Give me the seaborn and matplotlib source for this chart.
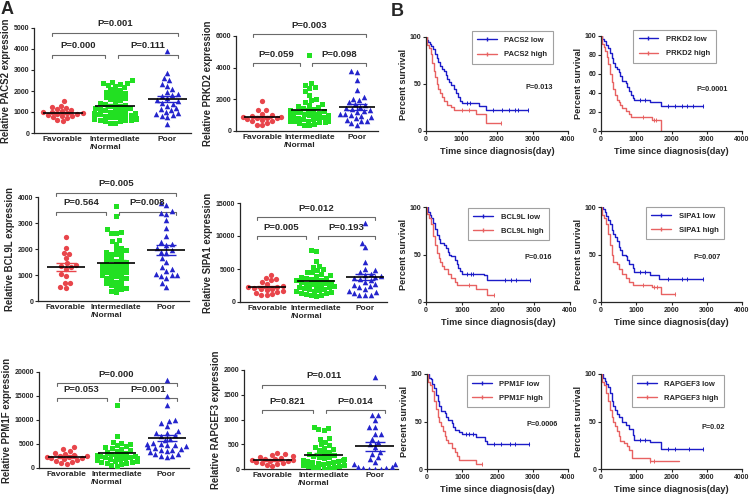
import warnings
import numpy as np
import matplotlib
matplotlib.use('Agg')
import matplotlib.pyplot as plt
from matplotlib.lines import Line2D
import seaborn as sns
warnings.filterwarnings('ignore')

sns.set_style('ticks')
plt.rcParams['font.family'] = ['Liberation Sans', 'DejaVu Sans']
plt.rcParams['font.weight'] = 'bold'
plt.rcParams['axes.labelweight'] = 'bold'

#%% A: expression by risk group
groups = ['Favorable', 'Intermediate\n/Normal', 'Poor']

pacs2_fav = [1500, 1300, 1250, 1200, 1150, 1100, 1050, 1000, 1000, 950, 950, 900, 900, 850, 800, 800, 750, 700, 600, 550]
pacs2_int = [2500, 2450, 2400, 2400, 2350, 2300, 2250, 2200, 2100, 2050, 2000, 1950, 1900, 1850, 1800, 1750, 1700,
             1650, 1600, 1550, 1500, 1450, 1400, 1350, 1300, 1300, 1250, 1200, 1200, 1150, 1100, 1100, 1050, 1000,
             1000, 950, 950, 900, 900, 850, 850, 800, 800, 800, 750, 750, 700, 700, 700, 650, 650, 600, 600, 600,
             550, 550, 500, 500]
pacs2_poor = [3900, 2850, 2600, 2500, 2350, 2250, 2100, 1950, 1850, 1800, 1750, 1650, 1550, 1500, 1450, 1400, 1300,
              1200, 1150, 1100, 1000, 950, 900, 850, 800, 750, 450]

prkd2_fav = [1900, 1350, 1300, 1100, 1000, 950, 900, 900, 850, 800, 800, 750, 700, 650, 600, 500, 400, 350]
prkd2_int = [4800, 3000, 2900, 2750, 2700, 2500, 2300, 2050, 1950, 1800, 1700, 1650, 1600, 1500, 1450, 1400, 1350,
             1300, 1250, 1200, 1200, 1150, 1100, 1100, 1050, 1000, 1000, 950, 950, 900, 900, 850, 850, 800, 800,
             750, 750, 700, 700, 650, 650, 600, 600, 550, 550, 500, 450, 400, 350]
prkd2_poor = [3800, 3700, 3200, 2600, 2150, 2050, 1950, 1800, 1700, 1650, 1500, 1450, 1400, 1300, 1250, 1200, 1100,
              1050, 1000, 950, 900, 800, 700, 650, 600, 500, 350]

bcl9l_fav = [2450, 2050, 1850, 1800, 1650, 1450, 1400, 1350, 1300, 1250, 1050, 950, 700, 700, 550, 500]
bcl9l_int = [3650, 3250, 2750, 2650, 2600, 2600, 2350, 2300, 2200, 2050, 2000, 1950, 1900, 1850, 1800, 1800, 1700,
             1650, 1600, 1550, 1500, 1500, 1450, 1400, 1400, 1350, 1300, 1300, 1250, 1200, 1200, 1150, 1100, 1100,
             1050, 1000, 1000, 950, 900, 900, 850, 800, 750, 700, 650, 600, 550, 500, 450, 400, 350]
bcl9l_poor = [3750, 3700, 3450, 3400, 3350, 3100, 2800, 2500, 2250, 2200, 2150, 2050, 1950, 1900, 1850, 1650, 1500,
              1300, 1250, 1150, 1050, 1000, 1000, 950, 900, 700, 550]

sipa1_fav = [4100, 3700, 3500, 3300, 3000, 2700, 2500, 2300, 2200, 2100, 2000, 1900, 1800, 1600, 1500, 1400, 1200,
             1100, 1000]
sipa1_int = [7900, 7800, 6200, 5500, 5300, 5000, 4800, 4600, 4500, 4300, 4100, 4000, 3800, 3700, 3600, 3500, 3400,
             3300, 3200, 3100, 3000, 2900, 2800, 2700, 2600, 2500, 2400, 2300, 2200, 2100, 2000, 1900, 1800, 1700,
             1600, 1500, 1400, 1300, 1200, 1100, 1000, 900]
sipa1_poor = [12000, 9000, 8300, 6000, 5000, 4800, 4500, 4300, 4100, 3900, 3800, 3600, 3500, 3300, 3100, 2800, 2600,
              2400, 2200, 2000, 1700, 1500, 1300, 1100, 1000, 1000]

ppm1f_fav = [4300, 4000, 3500, 3200, 3000, 2800, 2600, 2500, 2300, 2200, 2100, 2000, 1900, 1700, 1500, 1300, 1000, 900]
ppm1f_int = [13200, 6700, 5500, 5200, 5000, 4800, 4600, 4400, 4200, 4000, 3800, 3600, 3400, 3200, 3000, 2900, 2800,
             2700, 2600, 2500, 2400, 2300, 2200, 2100, 2000, 1900, 1800, 1700, 1600, 1500, 1400, 1300, 1200, 1100,
             1000, 800, 600, 400]
ppm1f_poor = [18400, 15000, 13100, 10100, 9800, 9300, 8800, 7800, 7300, 7200, 6900, 6700, 6100, 5800, 5200, 4900,
              4700, 4400, 4200, 3800, 3500, 3000, 2600, 2300, 5000, 4800, 4500, 4000, 3700, 3300, 2900, 2500]

rapgef3_fav = [320, 300, 280, 260, 250, 230, 210, 200, 190, 180, 170, 160, 150, 130, 120, 100, 80, 60]
rapgef3_int = [850, 820, 800, 780, 620, 600, 550, 500, 480, 450, 430, 400, 380, 350, 330, 300, 280, 260, 250, 240,
               220, 200, 190, 180, 170, 160, 150, 140, 130, 120, 110, 100, 90, 80, 70, 60, 50, 40, 30, 20, 10]
rapgef3_poor = [1850, 1100, 1100, 1000, 850, 850, 700, 700, 600, 550, 500, 450, 350, 300, 250, 200, 150, 100, 100,
                50, 50, 30, 20, 10, 10, 5]

# p values: (fav vs poor, fav vs int, int vs poor)
pacs2_p = ['P=0.001', 'P=0.000', 'P=0.111']
prkd2_p = ['P=0.003', 'P=0.059', 'P=0.098']
bcl9l_p = ['P=0.005', 'P=0.564', 'P=0.008']
sipa1_p = ['P=0.012', 'P=0.005', 'P=0.193']
ppm1f_p = ['P=0.000', 'P=0.053', 'P=0.001']
rapgef3_p = ['P=0.011', 'P=0.821', 'P=0.014']

#%% B: survival (time in days, percent survival)
pacs2_low_t = [0, 20, 50, 100, 150, 200, 250, 300, 350, 400, 450, 500, 550, 600, 650, 700, 800, 850, 900, 950, 1000, 1500, 1700, 2880]
pacs2_low_s = [100, 97, 95, 93, 90, 87, 82, 78, 73, 69, 66, 64, 60, 55, 52, 49, 45, 40, 36, 32, 30, 27, 22, 22]
pacs2_high_t = [0, 30, 80, 130, 180, 220, 260, 300, 350, 400, 450, 500, 600, 700, 800, 1400, 1700, 2100]
pacs2_high_s = [100, 92, 88, 82, 72, 64, 57, 50, 45, 40, 36, 32, 28, 25, 22, 18, 9, 9]
pacs2_low_c = [1150, 1250, 1900, 2150, 2350, 2500, 2600, 2880]
pacs2_high_c = [1000, 1200, 2100]

prkd2_low_t = [0, 30, 80, 150, 200, 250, 300, 350, 400, 450, 500, 550, 600, 700, 750, 800, 850, 900, 950, 1400, 1700, 2880]
prkd2_low_s = [100, 97, 95, 91, 87, 82, 77, 72, 67, 65, 62, 58, 53, 50, 46, 42, 38, 35, 33, 30, 26, 26]
prkd2_high_t = [0, 30, 80, 120, 160, 200, 250, 300, 350, 400, 450, 500, 550, 600, 700, 800, 850, 1450, 1700]
prkd2_high_s = [100, 92, 88, 84, 78, 70, 60, 52, 44, 38, 33, 30, 27, 24, 21, 18, 15, 12, 0]
prkd2_low_c = [1100, 1250, 1900, 2100, 2300, 2450, 2600, 2880]
prkd2_high_c = [1200, 1500, 1550]

bcl9l_low_t = [0, 50, 100, 150, 200, 250, 300, 350, 400, 500, 550, 600, 650, 700, 800, 850, 900, 950, 1000, 1600, 1700, 2880]
bcl9l_low_s = [100, 95, 92, 88, 83, 77, 71, 66, 62, 60, 57, 53, 50, 48, 44, 40, 36, 33, 30, 28, 23, 23]
bcl9l_high_t = [0, 30, 80, 150, 200, 250, 300, 350, 400, 450, 500, 600, 700, 800, 850, 1400, 1700, 1900]
bcl9l_high_s = [100, 93, 88, 82, 70, 60, 52, 46, 42, 38, 35, 30, 25, 21, 18, 14, 7, 7]
bcl9l_low_c = [1150, 1250, 1300, 2200, 2350, 2500, 2880]
bcl9l_high_c = [1200, 1900]

sipa1_low_t = [0, 50, 100, 150, 200, 250, 300, 350, 400, 450, 500, 550, 600, 700, 750, 800, 900, 950, 1400, 1650, 2880]
sipa1_low_s = [100, 98, 95, 90, 86, 82, 76, 72, 68, 64, 58, 55, 50, 48, 44, 40, 36, 32, 28, 24, 24]
sipa1_high_t = [0, 30, 80, 150, 200, 250, 300, 350, 450, 500, 600, 700, 800, 900, 1450, 1700, 2100]
sipa1_high_s = [100, 92, 88, 82, 72, 60, 50, 42, 40, 35, 30, 25, 21, 18, 16, 8, 8]
sipa1_low_c = [1100, 1250, 1900, 2300, 2450, 2880]
sipa1_high_c = [1200, 1500, 1600, 2100]

ppm1f_low_t = [0, 50, 100, 150, 200, 250, 300, 350, 400, 500, 550, 600, 700, 750, 800, 900, 1000, 1400, 1650, 1700, 2880]
ppm1f_low_s = [100, 96, 95, 90, 85, 78, 72, 66, 61, 59, 55, 52, 48, 44, 41, 39, 37, 34, 30, 26, 26]
ppm1f_high_t = [0, 30, 80, 150, 200, 250, 300, 350, 400, 450, 500, 550, 600, 700, 800, 850, 900, 1400, 1550]
ppm1f_high_s = [100, 92, 88, 82, 72, 63, 55, 50, 45, 40, 35, 31, 27, 22, 18, 14, 9, 5, 5]
ppm1f_low_c = [1100, 1200, 1300, 1900, 2100, 2350, 2500, 2880]
ppm1f_high_c = [1550]

rapgef3_low_t = [0, 50, 100, 150, 200, 250, 300, 350, 400, 450, 500, 600, 700, 800, 900, 950, 1400, 1700, 2880]
rapgef3_low_s = [100, 96, 93, 90, 86, 80, 72, 66, 62, 58, 55, 50, 46, 42, 36, 31, 28, 21, 21]
rapgef3_high_t = [0, 30, 80, 150, 200, 250, 300, 350, 400, 450, 500, 550, 650, 750, 800, 880, 1400, 2200]
rapgef3_high_s = [100, 92, 88, 80, 72, 62, 55, 50, 45, 40, 35, 30, 27, 24, 20, 12, 8, 8]
rapgef3_low_c = [1100, 1250, 1900, 2100, 2500, 2880]
rapgef3_high_c = [1400, 1500]

surv_p = {'PACS2': 'P=0.013', 'PRKD2': 'P=0.0001', 'BCL9L': 'P=0.016',
          'SIPA1': 'P=0.007', 'PPM1F': 'P=0.0006', 'RAPGEF3': 'P=0.02'}

#%% STYLE
W, H = 753, 495
grp_colors = ['#e8454b', '#22e022', '#2424cc']
grp_markers = ['o', 's', '^']
grp_sizes = [3.8, 3.6, 4.0]
low_col = '#1c1cc8'
high_col = '#e86262'
bracket_col = '#6a6a6a'


def px_axes(fig, left, top, right, bottom):
    return fig.add_axes([left / W, 1 - bottom / H, (right - left) / W, (bottom - top) / H])


def style_axes(ax):
    sns.despine(ax=ax)
    for s in ['left', 'bottom']:
        ax.spines[s].set_linewidth(0.9)
    ax.tick_params(length=2.5, width=0.8, pad=1, labelsize=5)


def bracket(ax, x0, x1, y, h, text, ty):
    ax.plot([x0, x0, x1, x1], [y - h, y, y, y - h], color=bracket_col, lw=0.8, clip_on=False)
    ax.text((x0 + x1) / 2, ty, text, ha='center', va='center', fontsize=6.8, fontweight='bold', clip_on=False)


def expr_panel(ax, gene, data, ymax, ystep, pvals, y_top, y_low):
    for i, vals in enumerate(data):
        sns.swarmplot(x=[groups[i]] * len(vals), y=vals, order=groups, color=grp_colors[i],
                      marker=grp_markers[i], size=grp_sizes[i], linewidth=0, ax=ax)
        m = np.mean(vals)
        sem = np.std(vals, ddof=1) / np.sqrt(len(vals))
        ax.errorbar(i, m, yerr=sem, color=grp_colors[i], capsize=7, lw=1.0, capthick=1.0, zorder=4)
        ax.hlines(m, i - 0.38, i + 0.38, color='k', lw=1.2, zorder=5)
    ax.set_xlim(-0.55, 2.45)
    ax.set_ylim(0, ymax)
    ax.set_yticks(np.arange(0, ymax + 1, ystep))
    style_axes(ax)
    ax.tick_params(axis='x', labelsize=6, length=0, pad=2)
    for lab in ax.get_xticklabels():
        lab.set_multialignment('left')
    ax.set_xlabel('')
    ax.set_ylabel('Relative {} expression'.format(gene), fontsize=6.9, labelpad=2)
    h = 0.03 * ymax
    tgap = 0.09 * ymax
    bracket(ax, -0.2, 2.2, y_top, h, pvals[0], y_top + tgap)
    bracket(ax, -0.2, 0.8, y_low, h, pvals[1], y_low + tgap)
    bracket(ax, 1.05, 2.2, y_low, h, pvals[2], y_low + tgap)


def value_at(t, s, c):
    idx = np.searchsorted(t, c, side='right') - 1
    return np.asarray(s)[idx]


def surv_panel(ax, gene, low, high, yticks, leg_xy, p_xy):
    for (t, s, c), col in [(low, low_col), (high, high_col)]:
        sns.lineplot(x=t, y=s, drawstyle='steps-post', color=col, lw=1.0, estimator=None, ax=ax)
        ax.plot(c, value_at(t, s, c), ls='none', marker='|', ms=2.5, mew=0.7, color=col)
    ax.set_xlim(0, 4000)
    ax.set_ylim(0, 100)
    ax.set_xticks([0, 1000, 2000, 3000, 4000])
    ax.set_yticks(yticks)
    style_axes(ax)
    ax.set_xlabel('Time since diagnosis(day)', fontsize=6.6, labelpad=3)
    ax.set_ylabel('Percent survival', fontsize=6.6, labelpad=1)
    handles = [Line2D([], [], color=low_col, lw=1.0, marker='|', ms=2.5, label='{} low'.format(gene)),
               Line2D([], [], color=high_col, lw=1.0, marker='|', ms=2.5, label='{} high'.format(gene))]
    leg = ax.legend(handles=handles, loc='upper right', bbox_to_anchor=leg_xy, frameon=True, fancybox=False,
                    edgecolor='#8a8a8a', fontsize=5.5, handlelength=2.6, borderpad=0.7, labelspacing=0.9,
                    handletextpad=1.0)
    leg.get_frame().set_linewidth(0.8)
    ax.text(p_xy[0], p_xy[1], surv_p[gene], ha='center', va='center', fontsize=5.3, fontweight='bold')


fig = plt.figure(figsize=(W / 100, H / 100), dpi=100)

# panel A
ax = px_axes(fig, 34, 28, 191, 133)
expr_panel(ax, 'PACS2', [pacs2_fav, pacs2_int, pacs2_poor], 5000, 1000, pacs2_p, 4760, 3700)
ax = px_axes(fig, 236, 36, 378, 131)
expr_panel(ax, 'PRKD2', [prkd2_fav, prkd2_int, prkd2_poor], 6000, 2000, prkd2_p, 6130, 4300)
ax = px_axes(fig, 38, 197, 189, 301)
expr_panel(ax, 'BCL9L', [bcl9l_fav, bcl9l_int, bcl9l_poor], 4000, 1000, bcl9l_p, 4150, 3420)
ax = px_axes(fig, 240, 203, 387, 302)
expr_panel(ax, 'SIPA1', [sipa1_fav, sipa1_int, sipa1_poor], 15000, 5000, sipa1_p, 12880, 10000)
ax = px_axes(fig, 39, 372, 189, 468)
expr_panel(ax, 'PPM1F', [ppm1f_fav, ppm1f_int, ppm1f_poor], 20000, 5000, ppm1f_p, 17700, 14600)
ax = px_axes(fig, 244, 370, 398, 469)
expr_panel(ax, 'RAPGEF3', [rapgef3_fav, rapgef3_int, rapgef3_poor], 2000, 500, rapgef3_p, 1700, 1190)

# panel B
ax = px_axes(fig, 426, 37, 568, 131)
surv_panel(ax, 'PACS2', (pacs2_low_t, pacs2_low_s, pacs2_low_c), (pacs2_high_t, pacs2_high_s, pacs2_high_c),
           [0, 50, 100], (0.92, 1.10), (3180, 46))
ax = px_axes(fig, 601, 36, 742, 131)
surv_panel(ax, 'PRKD2', (prkd2_low_t, prkd2_low_s, prkd2_low_c), (prkd2_high_t, prkd2_high_s, prkd2_high_c),
           [0, 20, 40, 60, 80, 100], (0.84, 1.10), (3150, 44))
ax = px_axes(fig, 426, 207, 570, 302)
surv_panel(ax, 'BCL9L', (bcl9l_low_t, bcl9l_low_s, bcl9l_low_c), (bcl9l_high_t, bcl9l_high_s, bcl9l_high_c),
           [0, 50, 100], (0.88, 1.03), (3130, 47))
ax = px_axes(fig, 601, 207, 742, 302)
surv_panel(ax, 'SIPA1', (sipa1_low_t, sipa1_low_s, sipa1_low_c), (sipa1_high_t, sipa1_high_s, sipa1_high_c),
           [0, 50, 100], (0.90, 1.04), (3000, 47))
ax = px_axes(fig, 427, 374, 568, 469)
surv_panel(ax, 'PPM1F', (ppm1f_low_t, ppm1f_low_s, ppm1f_low_c), (ppm1f_high_t, ppm1f_high_s, ppm1f_high_c),
           [0, 50, 100], (0.89, 1.03), (3270, 47))
ax = px_axes(fig, 601, 374, 742, 469)
surv_panel(ax, 'RAPGEF3', (rapgef3_low_t, rapgef3_low_s, rapgef3_low_c),
           (rapgef3_high_t, rapgef3_high_s, rapgef3_high_c), [0, 50, 100], (0.90, 1.03), (3180, 44))

fig.text(1 / W, 1 - 1 / H, 'A', fontsize=13, fontweight='bold', va='top', ha='left')
fig.text(391 / W, 1 - 3 / H, 'B', fontsize=13, fontweight='bold', va='top', ha='left')

fig.savefig('out.png', dpi=100)
